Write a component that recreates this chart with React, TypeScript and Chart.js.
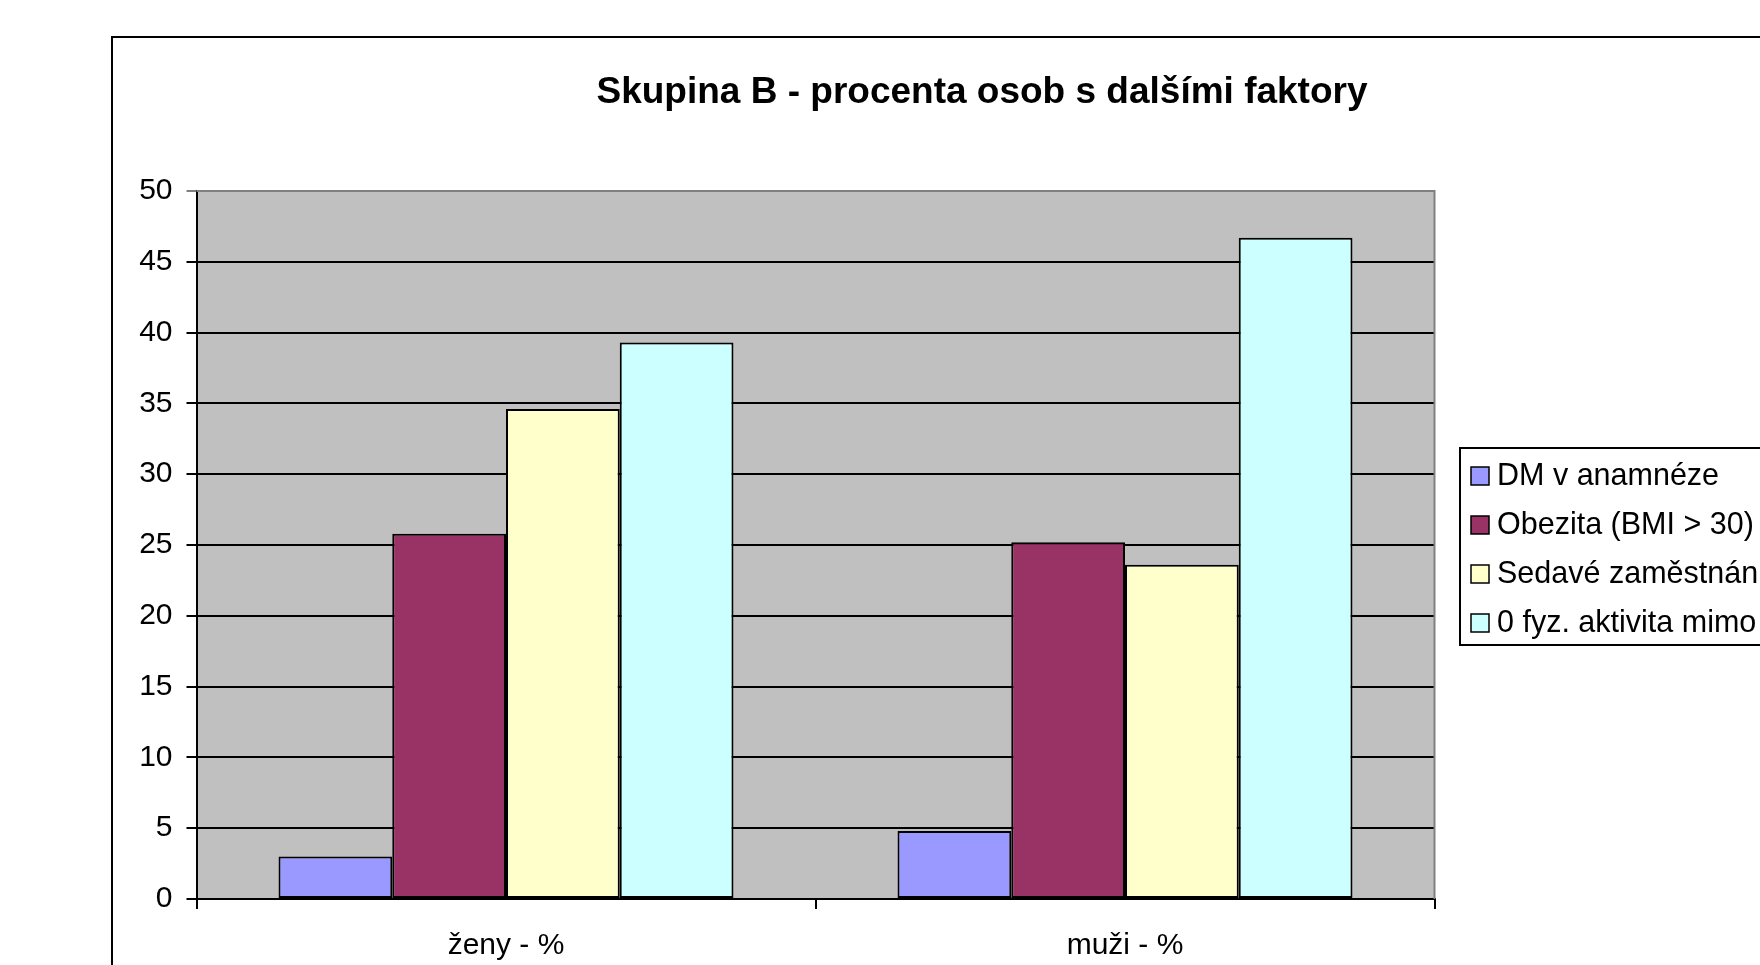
import React, { useEffect, useRef } from "react";
import { Chart, registerables } from "chart.js";

Chart.register(...registerables);

const categories = ["ženy - %", "muži - %"];
const seriesLabels = [
  "DM v anamnéze",
  "Obezita (BMI > 30)",
  "Sedavé zaměstnání",
  "0 fyz. aktivita mimo",
];
const dmValues = [3.0, 4.8];
const obezitaValues = [25.8, 25.2];
const sedaveValues = [34.6, 23.6];
const fyzValues = [39.3, 46.7];
const seriesColors = ["#9999FF", "#993366", "#FFFFCC", "#CCFFFF"];
const yMin = 0;
const yMax = 50;
const yStep = 5;
const titleText = "Skupina B - procenta osob s dalšími faktory";

const FONT = "'Liberation Sans', Arial, Helvetica, sans-serif";

const framePlugin = {
  id: "framePlugin",
  beforeDraw(chart: any) {
    const { ctx, chartArea: a, width, height } = chart;
    ctx.save();
    ctx.fillStyle = "#ffffff";
    ctx.fillRect(0, 0, width, height);
    ctx.fillStyle = "#C0C0C0";
    ctx.fillRect(a.left, a.top, a.right - a.left, a.bottom - a.top);
    ctx.restore();
  },
  beforeDatasetsDraw(chart: any) {
    const { ctx, chartArea: a } = chart;
    ctx.save();
    ctx.strokeStyle = "#808080";
    ctx.lineWidth = 2;
    ctx.beginPath();
    ctx.moveTo(a.left, a.top);
    ctx.lineTo(a.right, a.top);
    ctx.lineTo(a.right, a.bottom);
    ctx.stroke();
    ctx.restore();
  },
  afterDraw(chart: any) {
    const { ctx } = chart;
    ctx.save();
    // outer chart border
    ctx.strokeStyle = "#000000";
    ctx.lineWidth = 2;
    ctx.strokeRect(112, 37, 2200, 2200);
    // title
    ctx.fillStyle = "#000000";
    ctx.font = `bold 37px ${FONT}`;
    ctx.textAlign = "center";
    ctx.textBaseline = "middle";
    ctx.fillText(titleText, 982, 93);
    // legend
    ctx.lineWidth = 2;
    ctx.strokeRect(1460, 448, 600, 197);
    ctx.font = `30.5px ${FONT}`;
    ctx.textAlign = "left";
    const ds = chart.data.datasets;
    for (let i = 0; i < ds.length; i++) {
      const cy = 476 + i * 49;
      ctx.fillStyle = ds[i].backgroundColor;
      ctx.fillRect(1471, cy - 9, 18, 18);
      ctx.lineWidth = 1.5;
      ctx.strokeStyle = "#000000";
      ctx.strokeRect(1471, cy - 9, 18, 18);
      ctx.fillStyle = "#000000";
      ctx.fillText(ds[i].label, 1497, cy + 1);
    }
    ctx.restore();
  },
};

export default function App() {
  const ref = useRef<HTMLCanvasElement | null>(null);
  useEffect(() => {
    if (!ref.current) return;
    const seriesValues = [dmValues, obezitaValues, sedaveValues, fyzValues];
    const chart = new Chart(ref.current, {
      type: "bar",
      data: {
        labels: categories,
        datasets: seriesLabels.map((label, i) => ({
          label,
          data: seriesValues[i],
          backgroundColor: seriesColors[i],
          borderColor: "#000000",
          borderWidth: 2,
          borderSkipped: false,
          categoryPercentage: 0.735,
          barPercentage: 1,
        })),
      },
      options: {
        responsive: false,
        animation: false,
        devicePixelRatio: 1,
        layout: { padding: { left: 112, top: 191, right: 325.5, bottom: 0 } },
        plugins: {
          legend: { display: false },
          title: { display: false },
          tooltip: { enabled: false },
        },
        scales: {
          x: {
            afterFit(scale: any) {
              scale.height = 66;
            },
            grid: {
              offset: true,
              drawOnChartArea: false,
              drawTicks: true,
              tickLength: 10,
              color: "#000000",
              lineWidth: 2,
            },
            border: { display: true, color: "#000000", width: 2 },
            ticks: {
              color: "#000000",
              padding: 19,
              font: { family: FONT, size: 30 },
            },
          },
          y: {
            min: yMin,
            max: yMax,
            afterFit(scale: any) {
              scale.width = 84.5;
            },
            grid: {
              drawOnChartArea: true,
              drawTicks: true,
              tickLength: 10,
              color: (c: any) => (c.tick && c.tick.value === yMax ? "#808080" : "#000000"),
              lineWidth: 2,
            },
            border: { display: true, color: "#000000", width: 2 },
            ticks: {
              stepSize: yStep,
              color: "#000000",
              padding: 14,
              font: { family: FONT, size: 30 },
            },
          },
        },
      },
      plugins: [framePlugin],
    });
    return () => chart.destroy();
  }, []);
  return (
    <div style={{ position: "absolute", left: 0, top: 0, width: 1760, height: 965, overflow: "hidden", background: "#fff" }}>
      <canvas ref={ref} width={1760} height={965} style={{ display: "block", width: 1760, height: 965 }} />
    </div>
  );
}
